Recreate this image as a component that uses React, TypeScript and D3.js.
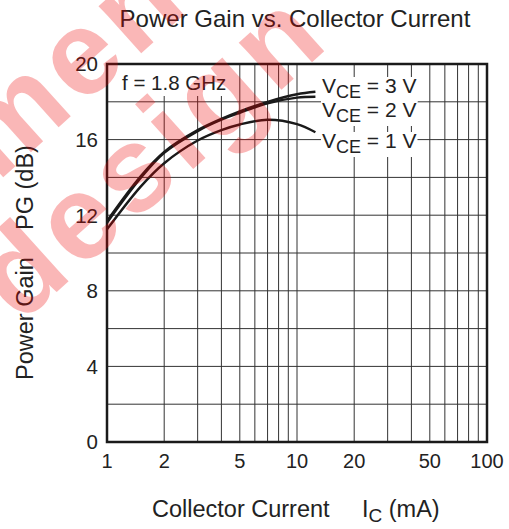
import * as d3 from "d3";
import React, { useEffect, useRef } from "react";

// collector current (mA) sample points
const currents = [1, 1.5, 2, 3, 4, 5, 7, 10, 12.5];
const gain3V = [11.7, 14.05, 15.35, 16.5, 17.1, 17.5, 18.0, 18.4, 18.53];
const gain2V = [11.6, 13.95, 15.3, 16.45, 17.05, 17.42, 17.92, 18.22, 18.27];
const gain1V = [11.25, 13.5, 14.75, 15.95, 16.5, 16.8, 17.05, 16.82, 16.39];
const seriesLabels = ["3", "2", "1"];

const xTicks = [1, 2, 5, 10, 20, 50, 100];
const yTicks = [0, 4, 8, 12, 16, 20];
const yGrid = [2, 4, 6, 8, 10, 12, 14, 16, 18];
const xGrid = [2, 3, 4, 5, 6, 7, 8, 9, 10, 20, 30, 40, 50, 60, 70, 80, 90];

const W = 509;
const H = 529;
const FONT = "'Liberation Sans', Arial, Helvetica, sans-serif";

export default function App() {
    const svgRef = useRef<SVGSVGElement>(null);

    useEffect(() => {
        if (!svgRef.current) return;
        const svg = d3.select(svgRef.current);
        svg.selectAll("*").remove();

        const left = 107, right = 487, top = 64, bottom = 442;

        const x = d3.scaleLog().domain([1, 100]).range([left, right]);
        const y = d3.scaleLinear().domain([0, 20]).range([bottom, top]);

        const grid = svg.append("g").attr("stroke", "#333").attr("stroke-width", 1);
        grid.selectAll("line.h")
            .data(yGrid)
            .join("line")
            .attr("class", "h")
            .attr("x1", left)
            .attr("x2", right)
            .attr("y1", (d) => y(d))
            .attr("y2", (d) => y(d));
        grid.selectAll("line.v")
            .data(xGrid)
            .join("line")
            .attr("class", "v")
            .attr("x1", (d) => x(d))
            .attr("x2", (d) => x(d))
            .attr("y1", top)
            .attr("y2", bottom);

        // white box behind the frequency note
        svg.append("rect")
            .attr("x", left + 1)
            .attr("y", top + 1)
            .attr("width", 128)
            .attr("height", 31)
            .attr("fill", "#fff");
        svg.append("text")
            .attr("x", 122)
            .attr("y", 90)
            .attr("font-family", FONT)
            .attr("font-size", 20.5)
            .attr("fill", "#222")
            .text("f = 1.8 GHz");

        const line = d3
            .line<[number, number]>()
            .x((d) => x(d[0]))
            .y((d) => y(d[1]))
            .curve(d3.curveCatmullRom.alpha(0.5));

        const series = [gain1V, gain2V, gain3V];
        series.forEach((vals) => {
            svg.append("path")
                .datum(currents.map((c, i) => [c, vals[i]] as [number, number]))
                .attr("fill", "none")
                .attr("stroke", "#1a1a1a")
                .attr("stroke-width", 2.4)
                .attr("d", line);
        });

        // series labels
        const labelY = [93, 117, 148];
        seriesLabels.forEach((v, i) => {
            const t = svg.append("text")
                .attr("x", 322)
                .attr("y", labelY[i])
                .attr("font-family", FONT)
                .attr("font-size", 21)
                .attr("fill", "#222");
            t.append("tspan").text("V");
            t.append("tspan").attr("font-size", 18).attr("dy", 5).text("CE");
            t.append("tspan").attr("dy", -5).text(` = ${v} V`);
            const bb = (t.node() as SVGTextElement).getBBox();
            svg.insert("rect", () => t.node())
                .attr("x", bb.x - 1)
                .attr("y", bb.y + 3)
                .attr("width", bb.width + 2)
                .attr("height", bb.height - 3)
                .attr("fill", "#fff");
        });

        // frame
        svg.append("rect")
            .attr("x", left)
            .attr("y", top)
            .attr("width", right - left)
            .attr("height", bottom - top)
            .attr("fill", "none")
            .attr("stroke", "#1a1a1a")
            .attr("stroke-width", 2.5);

        svg.append("g")
            .selectAll("text")
            .data(xTicks)
            .join("text")
            .attr("x", (d) => x(d))
            .attr("y", 468)
            .attr("text-anchor", "middle")
            .attr("font-family", FONT)
            .attr("font-size", 20)
            .attr("fill", "#222")
            .text((d) => d);

        svg.append("g")
            .selectAll("text")
            .data(yTicks)
            .join("text")
            .attr("x", 98)
            .attr("y", (d) => y(d))
            .attr("dy", "0.36em")
            .attr("text-anchor", "end")
            .attr("font-family", FONT)
            .attr("font-size", 20.5)
            .attr("fill", "#222")
            .text((d) => d);

        svg.append("text")
            .attr("x", 295)
            .attr("y", 27)
            .attr("text-anchor", "middle")
            .attr("font-family", FONT)
            .attr("font-size", 24)
            .attr("fill", "#222")
            .text("Power Gain vs. Collector Current");

        const xl = svg.append("text")
            .attr("x", 152)
            .attr("y", 517)
            .attr("font-family", FONT)
            .attr("font-size", 23.5)
            .attr("fill", "#222");
        xl.append("tspan").text("Collector Current");
        xl.append("tspan").attr("x", 362).text("I");
        xl.append("tspan").attr("font-size", 19).attr("dy", 5).text("C");
        xl.append("tspan").attr("dy", -5).text(" (mA)");

        svg.append("text")
            .attr("transform", "translate(33,380) rotate(-90)")
            .attr("font-family", FONT)
            .attr("font-size", 23.5)
            .attr("fill", "#222")
            .text("Power Gain");
        svg.append("text")
            .attr("transform", "translate(33,230) rotate(-90)")
            .attr("font-family", FONT)
            .attr("font-size", 23.5)
            .attr("fill", "#222")
            .text("PG (dB)");

        // watermark
        const wm = svg.append("g")
            .attr("transform", "translate(20,325) rotate(-42)")
            .attr("font-family", FONT)
            .attr("font-weight", "bold")
            .attr("font-size", 120)
            .attr("letter-spacing", 6)
            .attr("fill", "rgb(240,0,0)")
            .attr("opacity", 0.28);
        wm.append("text").attr("x", -352).attr("y", -121).text("Recommended");
        wm.append("text").attr("x", 0).attr("y", 0).text("design");
    }, []);

    return <svg ref={svgRef} width={W} height={H} style={{ position: "absolute", left: 0, top: 0 }} />;
}
